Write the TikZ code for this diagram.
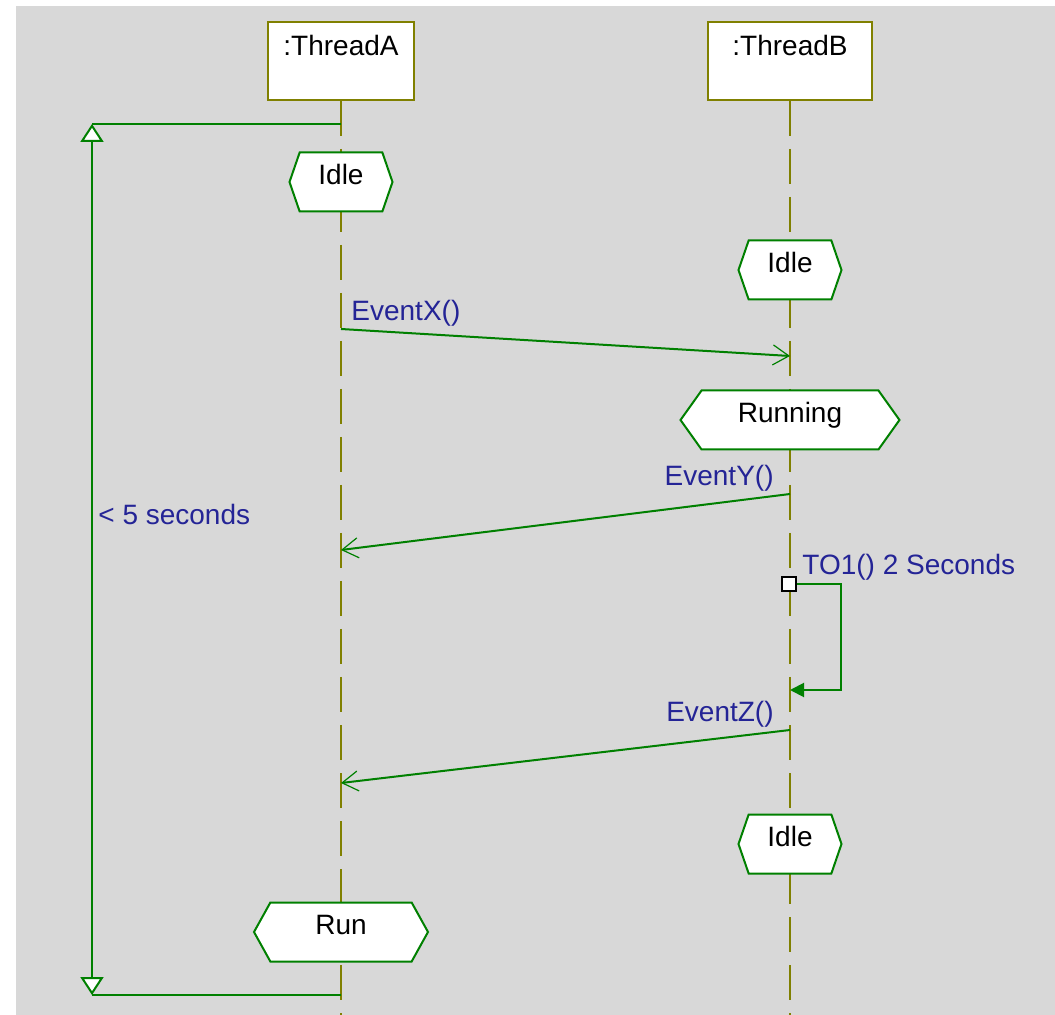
\documentclass[tikz,border=0pt]{standalone}
\usepackage{fontspec}
\setmainfont{Liberation Sans}
\usetikzlibrary{arrows.meta,shapes.symbols}
\definecolor{umlgreen}{RGB}{0,128,0}
\definecolor{umlolive}{RGB}{128,128,0}
\definecolor{umlnavy}{RGB}{36,36,150}
\definecolor{umlgrey}{RGB}{216,216,216}

\begin{document}
\begin{tikzpicture}[x=0.5pt,y=-0.5pt,font=\fontsize{14}{16}\selectfont]

\tikzstyle{object} = [draw=umlolive,line width=1pt,fill=white,minimum height=39pt];
\tikzstyle{lifeline} = [draw=umlolive,line width=0.9pt,dash pattern=on 17.5pt off 6.5pt];
\tikzstyle{state} = [signal,signal to=west and east,draw=umlgreen,line width=1pt,fill=white,minimum height=29.5pt,inner sep=0pt,text height=10.5pt,text depth=8pt];
\tikzstyle{msg} = [-{Straight Barb[length=8pt,width=10pt,line width=0.6pt]},draw=umlgreen,line width=1pt];
\tikzstyle{selfmsg} = [-{Triangle[length=7pt,width=7pt]},draw=umlgreen,line width=1pt];
\tikzstyle{durline} = [draw=umlgreen,line width=1pt];
\tikzstyle{durtip} = [{Triangle[fill=white,length=9pt,width=11.5pt]}-{Triangle[fill=white,length=9pt,width=11.5pt]}];
\tikzstyle{msglabel} = [text=umlnavy,inner sep=0pt];

\path[use as bounding box,fill=white] (0,0) rectangle (1055,1015);
\fill[umlgrey] (16,6) rectangle (1055,1015);

% objects and lifelines
\node[object,minimum width=73pt] (thA) at (341,61) {};
\node[below=3.5pt] (thAname) at (thA.north) {:ThreadA};
\node[object,minimum width=82pt] (thB) at (790,61) {};
\node[below=3.5pt] (thBname) at (thB.north) {:ThreadB};
\coordinate (endA) at (341,1015);
\coordinate (endB) at (790,1015);
\draw[lifeline] (thA.south) -- (endA);
\draw[lifeline] (thB.south) -- (endB);

% states
\node[state,minimum width=51.5pt,signal pointer angle=142] (idleA) at (341,182) {Idle};
\node[state,minimum width=51.5pt,signal pointer angle=142] (idleB) at (790,270) {Idle};
\node[state,minimum width=109.5pt,signal pointer angle=109] (running) at (790,420) {Running};
\node[state,minimum width=51.5pt,signal pointer angle=142] (idleB2) at (790,844) {Idle};
\node[state,minimum width=87pt,signal pointer angle=122] (run) at (341,932) {Run};

% messages
\coordinate (xFrom) at (341,329);
\coordinate (xTo) at (790,356);
\coordinate (yFrom) at (790,494);
\coordinate (yTo) at (341,550);
\coordinate (zFrom) at (790,730);
\coordinate (zTo) at (341,783);
\draw[msg] (xFrom) -- (xTo);
\draw[msg] (yFrom) -- (yTo);
\draw[msg] (zFrom) -- (zTo);
\node[msglabel,anchor=base west] (lblX) at (351,321) {EventX()};
\node[msglabel,anchor=base east] (lblY) at (774,486) {EventY()};
\node[msglabel,anchor=base east] (lblZ) at (774,721) {EventZ()};

% timeout
\node[draw,line width=1pt,fill=white,minimum size=7pt,inner sep=0pt] (tmr) at (789,584) {};
\coordinate (tmrEnd) at (790,690);
\draw[selfmsg] (tmr.east) -- ++(44,0) |- (tmrEnd);
\node[msglabel,anchor=base west] (lblT) at (802,575) {TO1() 2 Seconds};

% duration constraint
\coordinate (durA1) at (341,124);
\coordinate (durL1) at (92,124);
\coordinate (durA2) at (341,995);
\coordinate (durL2) at (92,995);
\draw[durline] (durA1) -- (durL1);
\draw[durline] (durA2) -- (durL2);
\draw[durline,durtip] (durL1) -- (durL2);
\node[msglabel,anchor=base west] (lblDur) at (98,525) {< 5 seconds};

\end{tikzpicture}
\end{document}
